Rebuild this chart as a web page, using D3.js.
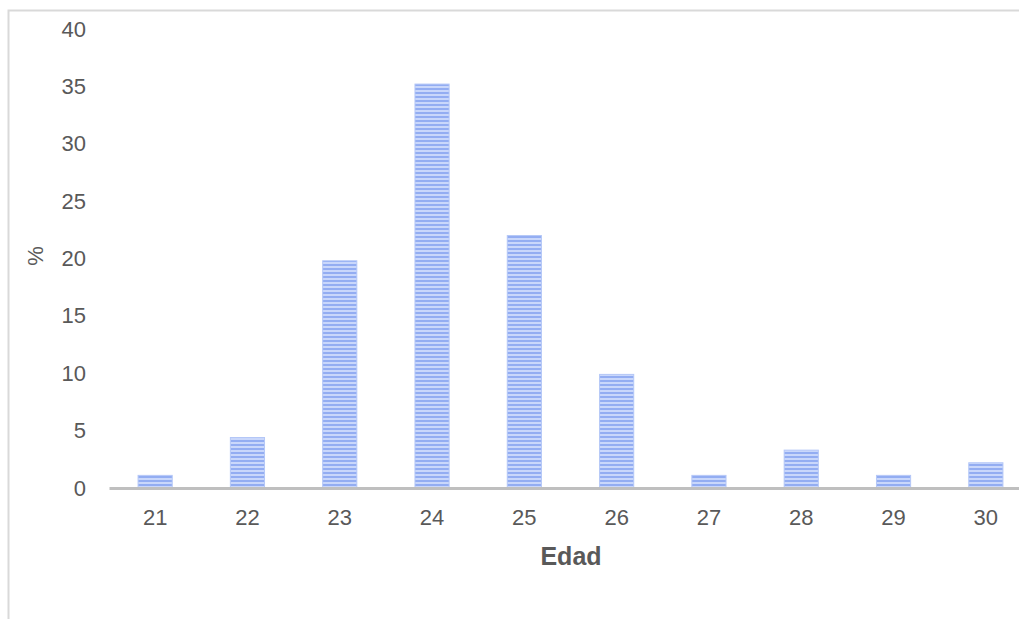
<!DOCTYPE html>
<html lang="es">
<head>
<meta charset="UTF-8"/>
<title>Edad</title>
<script src="https://d3js.org/d3.v7.min.js"></script>
<style>
	body { margin:0; background:#fff; }
	text { font-family: "Liberation Sans", Arial, sans-serif; }
</style>
</head>
<body>
<script>
	var w = 1019;
	var h = 619;

	var edades = ["21","22","23","24","25","26","27","28","29","30"];
	var porcentajes = [1.1, 4.4, 19.8, 35.2, 22.0, 9.9, 1.1, 3.3, 1.1, 2.2];
	var yTicks = [0,5,10,15,20,25,30,35,40];

	var svg = d3.select("body")
				.append("svg")
				.attr("width", w)
				.attr("height", h);

	// stripe pattern for bars
	var defs = svg.append("defs");
	var pat = defs.append("pattern")
				.attr("id","rayas")
				.attr("patternUnits","userSpaceOnUse")
				.attr("width",8)
				.attr("height",4);
	pat.append("rect").attr("width",8).attr("height",4).attr("fill","#c9d7fb");
	pat.append("rect").attr("width",8).attr("height",2).attr("fill","#93adf2");

	// chart frame
	svg.append("path")
		.attr("d","M8.5," + h + " V10.5 H" + w)
		.attr("fill","none")
		.attr("stroke","#d9d9d9")
		.attr("stroke-width",2);

	var xScale = d3.scaleBand()
				.domain(edades)
				.range([109, 1032])
				.paddingInner(0.63)
				.paddingOuter(0.315);

	var yScale = d3.scaleLinear()
				.domain([0,40])
				.range([488, 29]);

	// y tick labels
	var yAxis = d3.axisLeft(yScale)
				.tickValues(yTicks)
				.tickSize(0)
				.tickPadding(0);
	var gy = svg.append("g")
				.attr("transform","translate(86,0)")
				.call(yAxis);
	gy.select(".domain").remove();
	gy.selectAll("text")
		.attr("font-size","22px")
		.attr("fill","#595959")
		.style("font-family","Liberation Sans, Arial, sans-serif");

	//------------bars-------------
	svg.selectAll("rect.bar")
		.data(porcentajes)
		.enter()
		.append("rect")
		.attr("class","bar")
		.attr("x", function(d,i){ return xScale(edades[i]); })
		.attr("y", function(d){ return yScale(d); })
		.attr("width", xScale.bandwidth())
		.attr("height", function(d){ return yScale(0) - yScale(d); })
		.attr("fill","url(#rayas)")
		.attr("stroke","#b4c7f7")
		.attr("stroke-width",1);

	// x axis
	var xAxis = d3.axisBottom(xScale).tickSize(0).tickPadding(21);
	var gx = svg.append("g")
				.attr("transform","translate(0," + yScale(0) + ")")
				.call(xAxis);
	gx.select(".domain")
		.attr("stroke","#bfbfbf")
		.attr("stroke-width",3);
	gx.selectAll("text")
		.attr("font-size","22px")
		.attr("fill","#595959")
		.style("font-family","Liberation Sans, Arial, sans-serif");

	// axis titles
	svg.append("text")
		.attr("x",571)
		.attr("y",565)
		.attr("text-anchor","middle")
		.attr("font-size","25px")
		.attr("font-weight","bold")
		.attr("fill","#595959")
		.text("Edad");

	svg.append("text")
		.attr("transform","translate(43,256) rotate(-90)")
		.attr("text-anchor","middle")
		.attr("font-size","22px")
		.attr("fill","#595959")
		.text("%");
</script>
</body>
</html>
